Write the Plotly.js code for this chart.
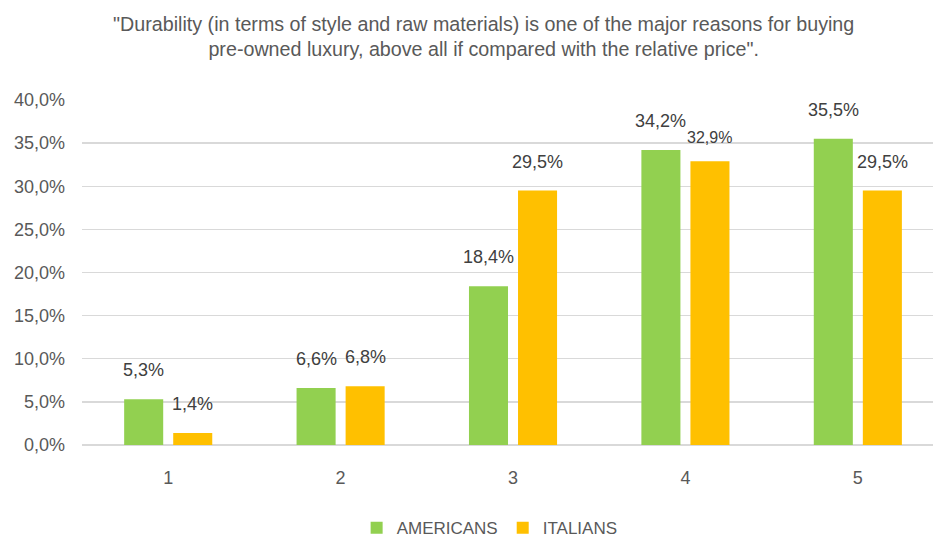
<!DOCTYPE html>
<html>
<head>
<meta charset="utf-8">
<script src="https://cdn.plot.ly/plotly-3.0.1.min.js"></script>
<style>html,body{margin:0;padding:0;background:#fff;}#chart{width:933px;height:540px;}</style>
</head>
<body>
<div id="chart"></div>
<script>
const categories = ['1', '2', '3', '4', '5'];
const americans = [5.3, 6.6, 18.4, 34.2, 35.5];
const italians = [1.4, 6.8, 29.5, 32.9, 29.5];
const seriesNames = ['AMERICANS', 'ITALIANS'];
const titleText = '"Durability (in terms of style and raw materials) is one of the major reasons for buying<br>pre-owned luxury, above all if compared with the relative price".';

const GREEN = '#92D050', ORANGE = '#FFC000', GREY = '#595959';
const arial = '"Liberation Sans", Arial, sans-serif';

const fmt = v => v.toFixed(1).replace('.', ',') + '%';

const traces = [
  {type: 'bar', name: seriesNames[0], x: categories, y: americans, marker: {color: GREEN}, hoverinfo: 'skip'},
  {type: 'bar', name: seriesNames[1], x: categories, y: italians, marker: {color: ORANGE}, hoverinfo: 'skip'}
];

const slotOffset = 0.142; // half of group slot, in category units
const annotations = [];
[americans, italians].forEach((vals, s) => {
  vals.forEach((v, j) => {
    annotations.push({
      x: j + (s === 0 ? -slotOffset : slotOffset), xref: 'x',
      y: v, yref: 'y', yshift: (s === 1 && j === 3) ? 24 : 29,
      text: fmt(v), showarrow: false, yanchor: 'middle', xanchor: 'center',
      font: {family: arial, size: (s === 1 && j === 3) ? 16 : 18, color: '#404040'}
    });
  });
});

const layout = {
  width: 933, height: 540,
  margin: {l: 82, r: 0, t: 100, b: 95, autoexpand: false},
  paper_bgcolor: '#fff', plot_bgcolor: '#fff',
  separators: ',.',
  barmode: 'group', bargap: 0.431, bargroupgap: 0.204,
  title: {text: titleText, x: 0.472, xref: 'paper', xanchor: 'center', y: 0.943, yref: 'container', yanchor: 'top',
          font: {family: arial, size: 19.7, color: GREY}},
  xaxis: {type: 'category', range: [-0.5, 4.436], showgrid: false, zeroline: false, showline: false,
          ticks: '', ticklabelstandoff: 20, tickfont: {family: arial, size: 18, color: GREY}, fixedrange: true},
  yaxis: {range: [0, 40], tick0: 0, dtick: 5, tickformat: '.1f', ticksuffix: '%',
          showgrid: true, gridcolor: '#D9D9D9', gridwidth: 1.3, zeroline: true, zerolinecolor: '#D9D9D9', zerolinewidth: 1.3,
          showline: false, ticks: '', ticklen: 0, ticklabelstandoff: 16, tickfont: {family: arial, size: 18, color: GREY}, automargin: false, fixedrange: true},
  showlegend: true,
  legend: {orientation: 'h', x: 0.479, xanchor: 'center', y: -0.241, yanchor: 'middle', xref: 'paper',
           font: {family: arial, size: 17, color: GREY}, itemwidth: 30, traceorder: 'normal'},
  annotations: annotations
};

Plotly.newPlot('chart', traces, layout, {displayModeBar: false, staticPlot: true});
</script>
</body>
</html>
